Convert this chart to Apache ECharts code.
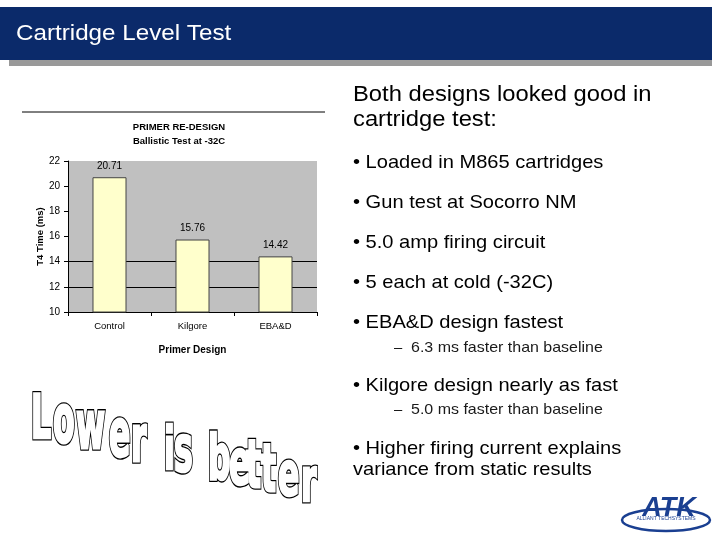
<!DOCTYPE html>
<html>
<head>
<meta charset="utf-8">
<script src="https://cdn.jsdelivr.net/npm/echarts@6/dist/echarts.min.js"></script>
<style>
html,body{margin:0;padding:0;background:#fff;}
#c{width:720px;height:540px;}
</style>
</head>
<body>
<div id="c"></div>
<script>
// ---- data ----
const categories = ['Control', 'Kilgore', 'EBA&D'];
const t4Times = [20.71, 15.76, 14.42];
const yMin = 10, yMax = 22, yInterval = 2;
const visibleGridValues = [12, 14];
const slideTitle = 'Cartridge Level Test';
const chartTitleLines = ['PRIMER RE-DESIGN', 'Ballistic Test at -32C'];
const headingLines = ['Both designs looked good in', 'cartridge test:'];
const bulletItems = [
  ['• Loaded in M865 cartridges', 1],
  ['• Gun test at Socorro NM', 1],
  ['• 5.0 amp firing circuit', 1],
  ['• 5 each at cold (-32C)', 1],
  ['• EBA&D design fastest', 1],
  ['6.3 ms faster than baseline', 2],
  ['• Kilgore design nearly as fast', 1],
  ['5.0 ms faster than baseline', 2],
  ['• Higher firing current explains', 1],
  ['variance from static results', 1]
];
const wordArt = 'Lower is better';

// ---- layout helpers (positions only) ----
const bulletY = [163, 203, 243, 283, 323, 348, 386, 410, 449, 470];
const letterX = [31, 53, 76, 109, 131, null, 164, 174, null, 208, 229, 246, 261, 278, 301];
const tallScaleY = {L: 1.72, i: 1.7, b: 1.76, t: 1.9};

const chart = echarts.init(document.getElementById('c'), null, {renderer: 'canvas'});
const FONT = 'Liberation Sans, Arial, sans-serif';
const SX = 1.08;

const graphics = [];
// title bar shadow + band
graphics.push({type: 'rect', shape: {x: 9, y: 60, width: 703, height: 6}, style: {fill: '#999999'}, z: 1});
graphics.push({type: 'rect', shape: {x: 0, y: 7, width: 712, height: 53}, style: {fill: '#0b2a6a'}, z: 2});
graphics.push({type: 'text', x: 16, y: 34, scaleX: 1.1, style: {text: slideTitle, fill: '#ffffff', font: '22px ' + FONT, textVerticalAlign: 'middle'}, z: 3});
// chart top rule
graphics.push({type: 'line', shape: {x1: 22, y1: 112, x2: 325, y2: 112}, style: {stroke: '#000', lineWidth: 1}});
// right text
headingLines.forEach((t, i) => {
  graphics.push({type: 'text', x: 353, y: [95, 120][i], scaleX: SX, style: {text: t, fill: '#000', font: '22px ' + FONT, textVerticalAlign: 'middle'}});
});
bulletItems.forEach((b, i) => {
  const lvl2 = b[1] === 2;
  if (lvl2) {
    graphics.push({type: 'text', x: 394, y: bulletY[i], style: {text: '–', fill: '#1a1a1a', font: '14.8px ' + FONT, textVerticalAlign: 'middle'}});
    graphics.push({type: 'text', x: 411, y: bulletY[i], scaleX: SX,
      style: {text: b[0], fill: '#1a1a1a', font: '14.8px ' + FONT, textVerticalAlign: 'middle'}});
  } else {
    graphics.push({type: 'text', x: 353, y: bulletY[i], scaleX: SX,
      style: {text: b[0], fill: '#000', font: '18.6px ' + FONT, textVerticalAlign: 'middle'}});
  }
});
// "Lower is better" word art: black outline layer then white emboldened layer
const WA_FONT = 'bold 35px "DejaVu Sans Condensed", "DejaVu Sans", sans-serif';
for (let i = 0; i < wordArt.length; i++) {
  const ch = wordArt[i];
  if (ch === ' ') continue;
  const x = letterX[i];
  const s = tallScaleY[ch] || (1.92 - (x - 30) * 0.0007);
  const bottom = 443 + (x + 8 - 40) * 0.233;
  const y = bottom + 5.5 * s;
  graphics.push({type: 'text', x: x, y: y, scaleY: s, z: 10,
    style: {text: ch, fill: '#000', stroke: '#000', lineWidth: 3.0, lineJoin: 'round',
      font: WA_FONT, textAlign: 'left', textVerticalAlign: 'bottom'}});
  graphics.push({type: 'text', x: x, y: y, scaleY: s, z: 11,
    style: {text: ch, fill: '#fff', stroke: '#fff', lineWidth: 1.5, lineJoin: 'round',
      font: WA_FONT, textAlign: 'left', textVerticalAlign: 'bottom'}});
}
// ATK logo
graphics.push({type: 'ellipse', shape: {cx: 666, cy: 520, rx: 44, ry: 11}, style: {fill: 'none', stroke: '#1a3f91', lineWidth: 2.5}});
graphics.push({type: 'rect', shape: {x: 633, y: 514, width: 66, height: 9}, style: {fill: '#fff'}});
graphics.push({type: 'text', x: 669, y: 509, style: {text: 'ATK', fill: '#1a3f91', font: 'italic bold 27px ' + FONT, textAlign: 'center', textVerticalAlign: 'middle'}});
graphics.push({type: 'text', x: 666, y: 519, style: {text: 'ALLIANT TECHSYSTEMS', fill: '#1a3f91', font: '5px ' + FONT, textAlign: 'center', textVerticalAlign: 'middle'}});

chart.setOption({
  animation: false,
  backgroundColor: '#ffffff',
  title: {
    text: chartTitleLines.join('\n'),
    left: 174, top: 115, textAlign: 'center',
    textStyle: {fontFamily: FONT, fontSize: 9.5, fontWeight: 'bold', color: '#000', lineHeight: 14}
  },
  grid: {left: 68, right: 403, top: 161, bottom: 228, show: true, backgroundColor: '#c0c0c0', borderWidth: 0},
  xAxis: {
    type: 'category', data: categories,
    name: 'Primer Design', nameLocation: 'middle', nameGap: 33,
    nameTextStyle: {fontFamily: FONT, fontSize: 10, fontWeight: 'bold', color: '#000'},
    axisLine: {lineStyle: {color: '#000', width: 1}},
    axisTick: {show: true, length: 4, lineStyle: {color: '#000'}},
    axisLabel: {fontFamily: FONT, fontSize: 9.5, color: '#000', margin: 9}
  },
  yAxis: {
    type: 'value', min: yMin, max: yMax, interval: yInterval,
    name: 'T4 Time (ms)', nameLocation: 'middle', nameGap: 22,
    nameTextStyle: {fontFamily: FONT, fontSize: 9.5, fontWeight: 'bold', color: '#000'},
    axisLine: {show: true, lineStyle: {color: '#000', width: 1}},
    axisTick: {show: true, length: 4, lineStyle: {color: '#000'}},
    axisLabel: {fontFamily: FONT, fontSize: 10, color: '#000', margin: 8},
    splitLine: {show: false}
  },
  series: [
    {
      type: 'line', data: [], z: 1, silent: true,
      markLine: {
        z: 1, silent: true, symbol: 'none', label: {show: false},
        lineStyle: {color: '#000', type: 'solid', width: 1},
        data: visibleGridValues.map(v => ({yAxis: v}))
      }
    },
    {
      type: 'bar', data: t4Times, z: 3, barWidth: '41%',
      itemStyle: {color: '#ffffcc', borderColor: '#444', borderWidth: 1},
      label: {show: true, position: 'top', distance: 6, fontFamily: FONT, fontSize: 10, color: '#000',
        formatter: p => p.value.toFixed(2)}
    }
  ],
  graphic: graphics
});
</script>
</body>
</html>
